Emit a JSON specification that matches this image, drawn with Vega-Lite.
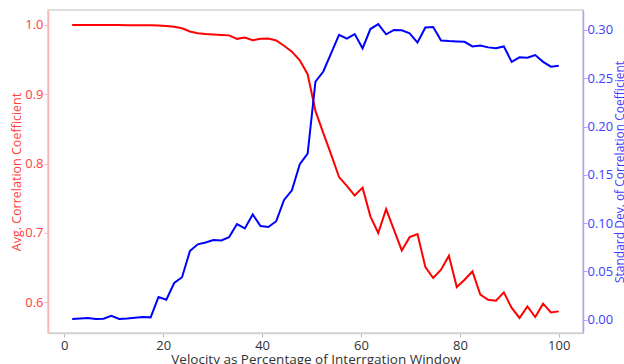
{
  "$schema": "https://vega.github.io/schema/vega-lite/v6.json",
  "autosize": "none",
  "width": 535,
  "height": 323,
  "padding": {"left": 48, "top": 10, "right": 41, "bottom": 31},
  "background": "white",
  "config": {
    "font": "Open Sans",
    "view": {"stroke": "#d4d4d4", "strokeWidth": 1.5},
    "axis": {"grid": false, "labelFontSize": 13, "titleFontSize": 12.5, "titleFontWeight": "normal", "tickSize": 4}
  },
  "data": {"values": [
    {"x": 1.59, "avg": 1.0, "sd": 0.0007},
    {"x": 3.17, "avg": 1.0, "sd": 0.0012},
    {"x": 4.76, "avg": 0.9999, "sd": 0.0017},
    {"x": 6.35, "avg": 0.9999, "sd": 0.0007},
    {"x": 7.94, "avg": 0.9999, "sd": 0.001},
    {"x": 9.52, "avg": 0.9998, "sd": 0.004},
    {"x": 11.11, "avg": 0.9998, "sd": 0.0007},
    {"x": 12.70, "avg": 0.9997, "sd": 0.0012},
    {"x": 14.29, "avg": 0.9997, "sd": 0.002},
    {"x": 15.87, "avg": 0.9996, "sd": 0.0027},
    {"x": 17.46, "avg": 0.9996, "sd": 0.0024},
    {"x": 19.05, "avg": 0.9993, "sd": 0.0235},
    {"x": 20.63, "avg": 0.9986, "sd": 0.0207},
    {"x": 22.22, "avg": 0.9974, "sd": 0.038},
    {"x": 23.81, "avg": 0.9952, "sd": 0.044},
    {"x": 25.40, "avg": 0.9906, "sd": 0.071},
    {"x": 26.98, "avg": 0.988, "sd": 0.078},
    {"x": 28.57, "avg": 0.987, "sd": 0.080},
    {"x": 30.16, "avg": 0.9863, "sd": 0.0825},
    {"x": 31.75, "avg": 0.9856, "sd": 0.082},
    {"x": 33.33, "avg": 0.985, "sd": 0.0855},
    {"x": 34.92, "avg": 0.980, "sd": 0.099},
    {"x": 36.51, "avg": 0.982, "sd": 0.0945},
    {"x": 38.10, "avg": 0.978, "sd": 0.109},
    {"x": 39.68, "avg": 0.980, "sd": 0.097},
    {"x": 41.27, "avg": 0.9805, "sd": 0.096},
    {"x": 42.86, "avg": 0.9777, "sd": 0.102},
    {"x": 44.44, "avg": 0.970, "sd": 0.124},
    {"x": 46.03, "avg": 0.9615, "sd": 0.134},
    {"x": 47.62, "avg": 0.949, "sd": 0.161},
    {"x": 49.21, "avg": 0.929, "sd": 0.172},
    {"x": 50.79, "avg": 0.876, "sd": 0.2465},
    {"x": 52.38, "avg": 0.844, "sd": 0.257},
    {"x": 53.97, "avg": 0.813, "sd": 0.276},
    {"x": 55.56, "avg": 0.7806, "sd": 0.295},
    {"x": 57.14, "avg": 0.768, "sd": 0.291},
    {"x": 58.73, "avg": 0.754, "sd": 0.2958},
    {"x": 60.32, "avg": 0.7654, "sd": 0.281},
    {"x": 61.90, "avg": 0.724, "sd": 0.301},
    {"x": 63.49, "avg": 0.700, "sd": 0.306},
    {"x": 65.08, "avg": 0.7344, "sd": 0.2955},
    {"x": 66.67, "avg": 0.7046, "sd": 0.300},
    {"x": 68.25, "avg": 0.6748, "sd": 0.2997},
    {"x": 69.84, "avg": 0.694, "sd": 0.2966},
    {"x": 71.43, "avg": 0.6984, "sd": 0.287},
    {"x": 73.02, "avg": 0.6509, "sd": 0.3025},
    {"x": 74.60, "avg": 0.635, "sd": 0.303},
    {"x": 76.19, "avg": 0.647, "sd": 0.289},
    {"x": 77.78, "avg": 0.6671, "sd": 0.2885},
    {"x": 79.37, "avg": 0.622, "sd": 0.2882},
    {"x": 80.95, "avg": 0.6326, "sd": 0.2878},
    {"x": 82.54, "avg": 0.6445, "sd": 0.283},
    {"x": 84.13, "avg": 0.611, "sd": 0.284},
    {"x": 85.71, "avg": 0.6037, "sd": 0.282},
    {"x": 87.30, "avg": 0.6023, "sd": 0.281},
    {"x": 88.89, "avg": 0.6143, "sd": 0.283},
    {"x": 90.48, "avg": 0.5918, "sd": 0.267},
    {"x": 92.06, "avg": 0.5774, "sd": 0.2717},
    {"x": 93.65, "avg": 0.594, "sd": 0.2713},
    {"x": 95.24, "avg": 0.5788, "sd": 0.274},
    {"x": 96.83, "avg": 0.598, "sd": 0.267},
    {"x": 98.41, "avg": 0.5854, "sd": 0.262},
    {"x": 100.0, "avg": 0.5869, "sd": 0.263}
  ]},
  "encoding": {
    "x": {
      "field": "x", "type": "quantitative",
      "scale": {"domain": [-3.3, 104.9], "nice": false, "zero": false},
      "axis": {"values": [0, 20, 40, 60, 80, 100], "title": "Velocity as Percentage of Interrgation Window",
        "labelColor": "#333333", "titleColor": "#333333", "domainColor": "#d4d4d4", "domainWidth": 1.5,
        "tickColor": "#bbbbbb", "labelPadding": 2, "titleBaseline": "alphabetic", "titleY": 30, "titleFontSize": 13.5}
    }
  },
  "layer": [
    {
      "mark": {"type": "line", "color": "#ff0000", "strokeWidth": 2},
      "encoding": {
        "y": {
          "field": "avg", "type": "quantitative",
          "scale": {"domain": [0.5557, 1.0216], "nice": false, "zero": false},
          "axis": {"orient": "left", "values": [0.6, 0.7, 0.8, 0.9, 1.0], "format": ".1f",
            "title": "Avg. Correlation Coefficient", "labelColor": "#ff4040", "titleColor": "#ff4040",
            "domainColor": "#ffb3b3", "domainWidth": 1.5, "tickColor": "#ffb3b3", "labelPadding": 1,
            "titleAngle": 270, "titleBaseline": "middle", "titleX": -32}
        }
      }
    },
    {
      "mark": {"type": "line", "color": "#0000ff", "strokeWidth": 2},
      "encoding": {
        "y": {
          "field": "sd", "type": "quantitative",
          "scale": {"domain": [-0.0138, 0.3207], "nice": false, "zero": false},
          "axis": {"orient": "right", "values": [0, 0.05, 0.1, 0.15, 0.2, 0.25, 0.3], "format": ".2f",
            "title": "Standard Dev. of Correlation Coefficient", "labelColor": "#4040ff", "titleColor": "#4040ff",
            "domainColor": "#a6a6ff", "domainWidth": 1.5, "tickColor": "#a6a6ff", "labelPadding": 0,
            "titleAngle": 270, "titleBaseline": "middle", "titleX": 36.5, "titleFontSize": 12}
        }
      }
    }
  ],
  "resolve": {"scale": {"y": "independent"}}
}
